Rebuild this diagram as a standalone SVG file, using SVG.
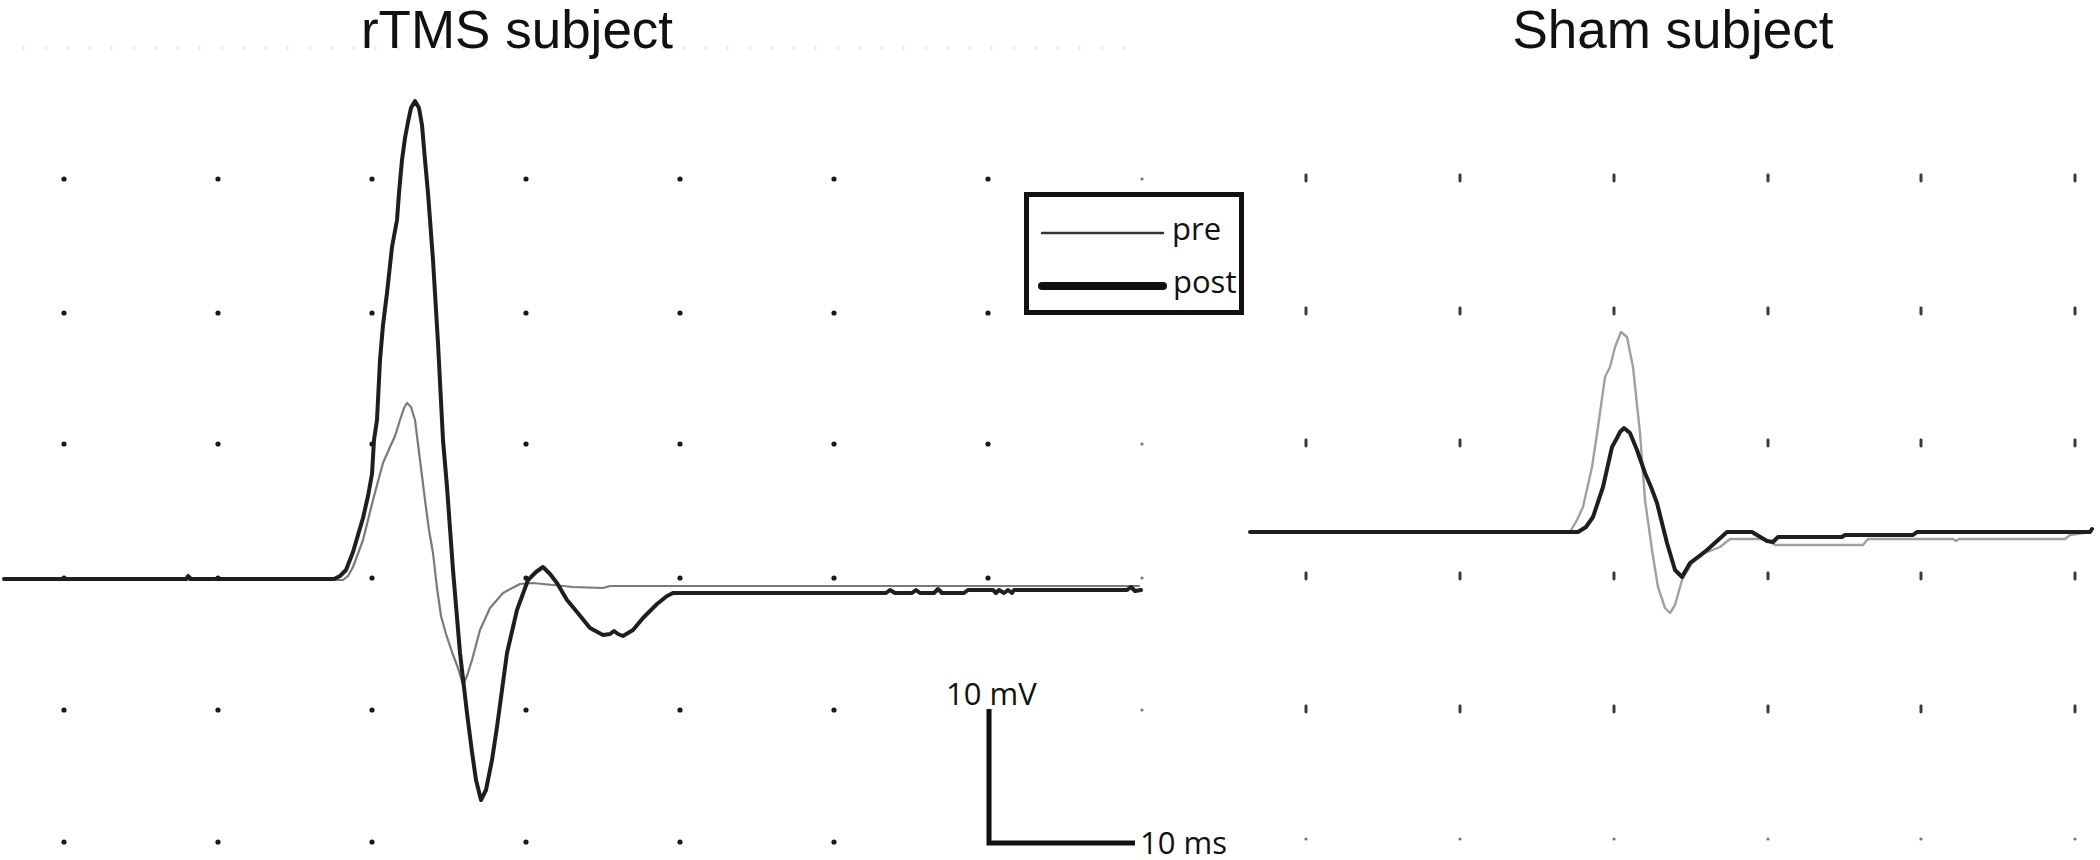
<svg xmlns="http://www.w3.org/2000/svg" width="2100" height="860" viewBox="0 0 2100 860">
<defs>
<style>
.title{font-family:"Liberation Sans",Arial,sans-serif;font-size:53px;fill:#111;text-anchor:middle}
.lbl{font-family:"Open Sans","DejaVu Sans",sans-serif;font-size:31px;fill:#111}
.pre{fill:none;stroke:#7a7a7a;stroke-width:2.2;stroke-linejoin:round;stroke-linecap:round}
.preR{fill:none;stroke:#a0a0a0;stroke-width:2.4;stroke-linejoin:round;stroke-linecap:round}
.post{fill:none;stroke:#1e1e1e;stroke-width:4;stroke-linejoin:round;stroke-linecap:round}
.dl{fill:#1a1a1a}
.dr{fill:#3a3a3a}
</style>
<circle id="dot" r="2.6" class="dl"/>
<rect id="mark" x="-1.5" y="-4.5" width="3" height="9" rx="1.4" class="dr"/>
<circle id="sdot" r="1.6" fill="#777"/>
</defs>
<rect width="2100" height="860" fill="#fff"/>

<g id="faint-top">
<line x1="22" y1="48" x2="1140" y2="48" stroke="#ebebeb" stroke-width="3" stroke-dasharray="3 19"/>
</g>

<g id="grid-left">
<g id="gl-r1"><use href="#dot" x="64" y="179"/><use href="#dot" x="218" y="179"/><use href="#dot" x="372" y="179"/><use href="#dot" x="526" y="179"/><use href="#dot" x="680" y="179"/><use href="#dot" x="834" y="179"/><use href="#dot" x="988" y="179"/><use href="#sdot" x="1142" y="179"/></g>
<g id="gl-r2"><use href="#dot" x="64" y="313"/><use href="#dot" x="218" y="313"/><use href="#dot" x="372" y="313"/><use href="#dot" x="526" y="313"/><use href="#dot" x="680" y="313"/><use href="#dot" x="834" y="313"/><use href="#dot" x="988" y="313"/><use href="#sdot" x="1142" y="313"/></g>
<g id="gl-r3"><use href="#dot" x="64" y="444"/><use href="#dot" x="218" y="444"/><use href="#dot" x="372" y="444"/><use href="#dot" x="526" y="444"/><use href="#dot" x="680" y="444"/><use href="#dot" x="834" y="444"/><use href="#dot" x="988" y="444"/><use href="#sdot" x="1142" y="444"/></g>
<g id="gl-r4"><use href="#dot" x="64" y="578"/><use href="#dot" x="218" y="578"/><use href="#dot" x="372" y="578"/><use href="#dot" x="526" y="578"/><use href="#dot" x="680" y="578"/><use href="#dot" x="834" y="578"/><use href="#dot" x="988" y="578"/><use href="#sdot" x="1142" y="578"/></g>
<g id="gl-r5"><use href="#dot" x="64" y="710"/><use href="#dot" x="218" y="710"/><use href="#dot" x="372" y="710"/><use href="#dot" x="526" y="710"/><use href="#dot" x="680" y="710"/><use href="#dot" x="834" y="710"/><use href="#sdot" x="1142" y="710"/></g>
<g id="gl-r6"><use href="#dot" x="64" y="842"/><use href="#dot" x="218" y="842"/><use href="#dot" x="372" y="842"/><use href="#dot" x="526" y="842"/><use href="#dot" x="680" y="842"/><use href="#dot" x="834" y="842"/></g>
</g>

<g id="grid-right">
<g id="gr-r1"><use href="#mark" x="1306" y="178"/><use href="#mark" x="1460" y="178"/><use href="#mark" x="1614" y="178"/><use href="#mark" x="1768" y="178"/><use href="#mark" x="1921" y="178"/><use href="#mark" x="2075" y="178"/></g>
<g id="gr-r2"><use href="#mark" x="1306" y="311"/><use href="#mark" x="1460" y="311"/><use href="#mark" x="1614" y="311"/><use href="#mark" x="1768" y="311"/><use href="#mark" x="1921" y="311"/><use href="#mark" x="2075" y="311"/></g>
<g id="gr-r3"><use href="#mark" x="1306" y="443"/><use href="#mark" x="1460" y="443"/><use href="#mark" x="1768" y="443"/><use href="#mark" x="1921" y="443"/><use href="#mark" x="2075" y="443"/></g>
<g id="gr-r4"><use href="#mark" x="1306" y="576"/><use href="#mark" x="1460" y="576"/><use href="#mark" x="1614" y="576"/><use href="#mark" x="1768" y="576"/><use href="#mark" x="1921" y="576"/><use href="#mark" x="2075" y="576"/></g>
<g id="gr-r5"><use href="#mark" x="1306" y="709"/><use href="#mark" x="1460" y="709"/><use href="#mark" x="1614" y="709"/><use href="#mark" x="1768" y="709"/><use href="#mark" x="1921" y="709"/><use href="#mark" x="2075" y="709"/></g>
<g id="gr-r6"><use href="#sdot" x="1306" y="839"/><use href="#sdot" x="1460" y="839"/><use href="#sdot" x="1614" y="839"/><use href="#sdot" x="1768" y="839"/><use href="#sdot" x="1921" y="839"/><use href="#sdot" x="2075" y="839"/></g>
</g>

<g id="title-left"><text class="title" x="517" y="48">rTMS subject</text></g>
<g id="title-right"><text class="title" x="1673" y="48">Sham subject</text></g>

<g id="traces">
<polyline id="left-pre" class="pre" points="4,580 343,580 348,576 353,567 363,540 373,500 383,463 390,447 395,436 400,420 404,408 407,403 411,407 415,420 420,460 425,500 429,530 433,553 437,588 441,616 446,634 452,652 458,668 463,685 467,676 472,660 480,630 490,608 503,593 520,584 533,583 573,587 603,588 610,586 1139,586"/>
<polyline id="left-post" class="post" points="4,579 186,579 188,576 191,579 334,579 340,576 346,570 353,552 363,518 368,496 372,474 374,440 377,420 380,360 383,325 387,293 392,247 397,220 399,193 402,160 405,138 408,122 411,108 415,101 419,108 422,125 425,160 428,193 433,260 438,343 443,440 447,487 453,570 460,653 467,713 472,752 476,780 481,800 486,790 492,760 497,727 507,653 517,610 528,580 536,572 543,567 550,574 557,583 567,600 577,612 590,628 603,635 610,634 614,631 618,634 623,636 633,630 643,618 657,604 667,596 673,593 886,593 890,590 895,593 912,593 916,590 920,593 934,593 938,589 942,593 964,593 968,590 993,590 996,593 999,590 1004,593 1008,590 1012,593 1014,590 1127,590 1131,587 1135,591 1141,590"/>
<polyline id="right-pre" class="preR" points="1250,532 1570,532 1577,520 1583,507 1592,467 1598,427 1605,377 1610,367 1615,347 1621,332 1627,337 1633,367 1640,433 1645,500 1652,550 1658,587 1665,608 1670,613 1675,605 1682,580 1692,563 1705,553 1720,547 1730,539 1765,539 1775,545 1863,545 1868,539 1953,539 1956,541 1959,539 2065,539 2070,535 2090,532"/>
<polyline id="right-post" class="post" points="1250,532 1578,532 1586,527 1593,517 1603,487 1612,447 1617,438 1620,432 1624,428 1630,433 1637,450 1645,473 1651,487 1657,503 1667,543 1675,570 1682,577 1690,563 1698,557 1707,550 1727,532 1752,532 1767,541 1773,542 1778,537 1842,537 1845,535 1913,535 1917,532 2090,532 2092,529"/>
</g>

<g id="legend">
<rect x="1026.5" y="194.5" width="215" height="118" fill="#fff" stroke="#111" stroke-width="5"/>
<line x1="1042" y1="233" x2="1163" y2="233" stroke="#333" stroke-width="2.5" stroke-linecap="round"/>
<text class="lbl" x="1172" y="240">pre</text>
<line x1="1042" y1="286" x2="1163" y2="286" stroke="#111" stroke-width="8" stroke-linecap="round"/>
<text class="lbl" x="1173" y="293">post</text>
</g>

<g id="scale-bar">
<path d="M989,709 V843 H1135" fill="none" stroke="#111" stroke-width="5"/>
<text class="lbl" x="946" y="705">10 mV</text>
<text class="lbl" x="1140" y="854">10 ms</text>
</g>
</svg>
